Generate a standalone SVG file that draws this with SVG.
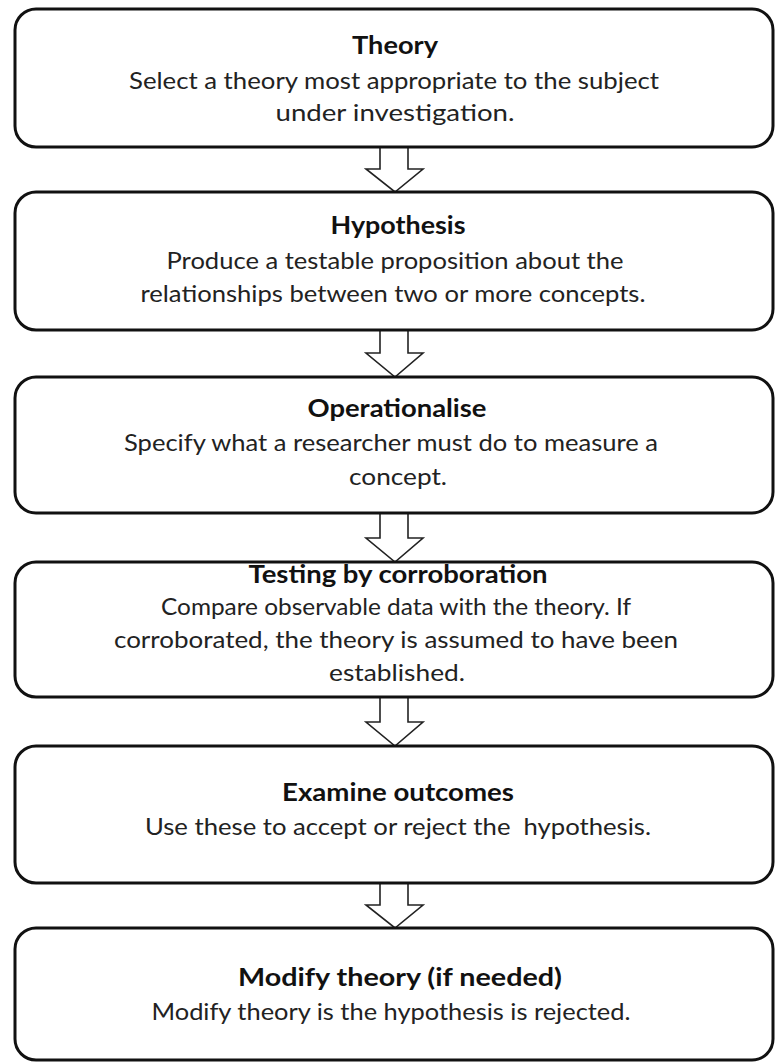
<svg xmlns="http://www.w3.org/2000/svg" width="776" height="1062" viewBox="0 0 776 1062">
  <style>
    .box { fill: #ffffff; stroke: #111111; stroke-width: 3; }
    .arrow { fill: #ffffff; stroke: #222222; stroke-width: 1.6; stroke-linejoin: miter; }
    .title { font-family: Lato, "Open Sans", "Liberation Sans", sans-serif; font-weight: bold; font-size: 24px; fill: #111111; text-anchor: middle; }
    .body { font-family: Lato, "Open Sans", "Liberation Sans", sans-serif; font-size: 24px; fill: #222222; text-anchor: middle; }
  </style>
  <rect width="776" height="1062" fill="#ffffff"/>

  <!-- block arrows between the steps -->
  <g id="connectors">
    <path class="arrow" d="M380,147 V169 H366 L395,192 L423,169 H408 V147"/>
    <path class="arrow" d="M380,330 V353 H366 L395,377 L423,353 H408 V330"/>
    <path class="arrow" d="M380,513 V538 H366 L395,562 L423,538 H408 V513"/>
    <path class="arrow" d="M380,697 V722 H366 L395,746 L423,722 H408 V697"/>
    <path class="arrow" d="M380,883 V905 H366 L395,928 L423,905 H408 V883"/>
  </g>

  <g id="theory">
    <rect class="box" x="15" y="9" width="758" height="138" rx="21"/>
    <text class="title" x="395" y="54" textLength="86" lengthAdjust="spacingAndGlyphs">Theory</text>
    <text class="body" x="394" y="89" textLength="530" lengthAdjust="spacingAndGlyphs">Select a theory most appropriate to the subject</text>
    <text class="body" x="395" y="121" textLength="239" lengthAdjust="spacingAndGlyphs">under investigation.</text>
  </g>

  <g id="hypothesis">
    <rect class="box" x="15" y="192" width="758" height="138" rx="21"/>
    <text class="title" x="398" y="234" textLength="135" lengthAdjust="spacingAndGlyphs">Hypothesis</text>
    <text class="body" x="395" y="269" textLength="457" lengthAdjust="spacingAndGlyphs">Produce a testable proposition about the</text>
    <text class="body" x="393" y="302" textLength="505" lengthAdjust="spacingAndGlyphs">relationships between two or more concepts.</text>
  </g>

  <g id="operationalise">
    <rect class="box" x="15" y="377" width="758" height="136" rx="21"/>
    <text class="title" x="397" y="417" textLength="179" lengthAdjust="spacingAndGlyphs">Operationalise</text>
    <text class="body" x="391" y="451" textLength="534" lengthAdjust="spacingAndGlyphs">Specify what a researcher must do to measure a</text>
    <text class="body" x="398" y="485" textLength="98" lengthAdjust="spacingAndGlyphs">concept.</text>
  </g>

  <g id="testing">
    <rect class="box" x="15" y="562" width="758" height="135" rx="21"/>
    <text class="title" x="398" y="583" textLength="299" lengthAdjust="spacingAndGlyphs">Testing by corroboration</text>
    <text class="body" x="396" y="615" textLength="470" lengthAdjust="spacingAndGlyphs">Compare observable data with the theory. If</text>
    <text class="body" x="396" y="648" textLength="564" lengthAdjust="spacingAndGlyphs">corroborated, the theory is assumed to have been</text>
    <text class="body" x="397" y="681" textLength="136" lengthAdjust="spacingAndGlyphs">established.</text>
  </g>

  <g id="examine">
    <rect class="box" x="15" y="746" width="758" height="137" rx="21"/>
    <text class="title" x="398" y="801" textLength="232" lengthAdjust="spacingAndGlyphs">Examine outcomes</text>
    <text class="body" x="398" y="835" textLength="506" lengthAdjust="spacingAndGlyphs" xml:space="preserve">Use these to accept or reject the  hypothesis.</text>
  </g>

  <g id="modify">
    <rect class="box" x="15" y="928" width="758" height="132" rx="21"/>
    <text class="title" x="400" y="986" textLength="324" lengthAdjust="spacingAndGlyphs">Modify theory (if needed)</text>
    <text class="body" x="391" y="1020" textLength="479" lengthAdjust="spacingAndGlyphs">Modify theory is the hypothesis is rejected.</text>
  </g>
</svg>
